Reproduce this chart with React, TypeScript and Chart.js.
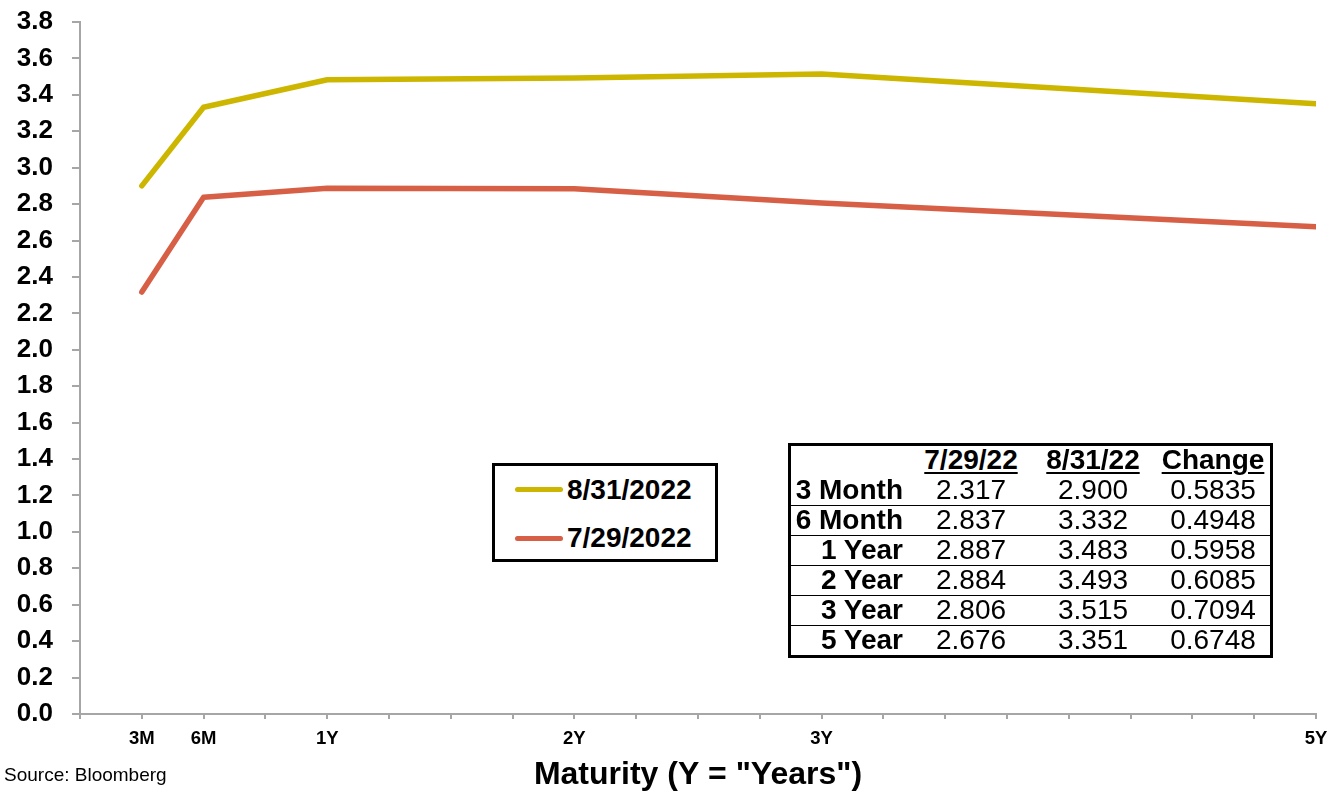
import React, { useEffect, useRef } from 'react';
import { Chart, registerables } from 'chart.js';

Chart.register(...registerables);

// ---- Data ----
const maturities = [0.25, 0.5, 1, 2, 3, 5];
const maturityNames = ['3 Month', '6 Month', '1 Year', '2 Year', '3 Year', '5 Year'];
const yields0729 = [2.317, 2.837, 2.887, 2.884, 2.806, 2.676];
const yields0831 = [2.9, 3.332, 3.483, 3.493, 3.515, 3.351];
const changes = [0.5835, 0.4948, 0.5958, 0.6085, 0.7094, 0.6748];
const xTickValues = [0.25, 0.5, 1, 2, 3, 5];
const xTickLabels = ['3M', '6M', '1Y', '2Y', '3Y', '5Y'];
const seriesNames = ['8/31/2022', '7/29/2022'];
const tableHeaders = ['7/29/22', '8/31/22', 'Change'];
const xTitle = 'Maturity (Y = "Years")';
const sourceText = 'Source: Bloomberg';

const YELLOW = '#CDB600';
const RED = '#D65F46';
const AXIS = '#A6A6A6';
const FONT = '"Liberation Sans", Arial, Helvetica, sans-serif';

export default function App() {
  const canvasRef = useRef<HTMLCanvasElement | null>(null);

  useEffect(() => {
    const canvas = canvasRef.current;
    if (!canvas) return;
    const chart = new Chart(canvas, {
      type: 'line',
      data: {
        datasets: [
          {
            label: seriesNames[0],
            data: maturities.map((x, i) => ({ x, y: yields0831[i] })),
            borderColor: YELLOW,
            backgroundColor: YELLOW,
            borderWidth: 5.5,
            pointRadius: 0,
            tension: 0,
            borderCapStyle: 'round',
            borderJoinStyle: 'round',
          },
          {
            label: seriesNames[1],
            data: maturities.map((x, i) => ({ x, y: yields0729[i] })),
            borderColor: RED,
            backgroundColor: RED,
            borderWidth: 5.5,
            pointRadius: 0,
            tension: 0,
            borderCapStyle: 'round',
            borderJoinStyle: 'round',
          },
        ],
      },
      options: {
        responsive: false,
        animation: false,
        devicePixelRatio: 1,
        layout: { padding: { left: 0, right: 22, top: 22, bottom: 0 } },
        plugins: {
          legend: { display: false },
          tooltip: { enabled: false },
        },
        scales: {
          x: {
            type: 'linear',
            min: 0,
            max: 5,
            afterFit: (scale: any) => {
              scale.height = 80;
            },
            ticks: {
              stepSize: 0.25,
              autoSkip: false,
              maxRotation: 0,
              minRotation: 0,
              padding: 9,
              color: '#000',
              font: { family: FONT, size: 18.5, weight: 'bold' },
              callback: (value: any) => {
                const idx = xTickValues.indexOf(Number(value));
                return idx >= 0 ? xTickLabels[idx] : '';
              },
            },
            grid: {
              display: true,
              drawOnChartArea: false,
              drawTicks: true,
              tickLength: 5,
              tickColor: AXIS,
              lineWidth: 2,
              color: AXIS,
            },
            border: { display: true, color: AXIS, width: 2 },
            title: {
              display: true,
              text: xTitle,
              color: '#000',
              padding: 0,
              font: { family: FONT, size: 32, weight: 'bold' },
            },
          },
          y: {
            type: 'linear',
            min: 0,
            max: 3.8,
            afterFit: (scale: any) => {
              scale.width = 80;
              scale.paddingTop = 0;
              scale.paddingBottom = 0;
            },
            ticks: {
              stepSize: 0.2,
              autoSkip: false,
              padding: 19,
              color: '#000',
              font: { family: FONT, size: 26, weight: 'bold' },
              callback: (value: any) => Number(value).toFixed(1),
            },
            grid: {
              display: true,
              drawOnChartArea: false,
              drawTicks: true,
              tickLength: 8,
              tickColor: AXIS,
              lineWidth: 2,
              color: AXIS,
            },
            border: { display: true, color: AXIS, width: 2 },
          },
        },
      },
    } as any);
    return () => chart.destroy();
  }, []);

  const abs = (style: React.CSSProperties): React.CSSProperties => ({
    position: 'absolute',
    whiteSpace: 'nowrap',
    ...style,
  });

  // table geometry
  const colCenters = [971, 1093, 1213];
  const colWidth = 130;
  const labelRight = 903;
  const headerTop = 445;
  const rowTop0 = 475;
  const rowH = 30;

  const seriesColors = [YELLOW, RED];
  const legendLineY = [489, 538];
  const legendTextTop = [475, 523];

  return (
    <div
      style={{
        position: 'fixed',
        left: 0,
        top: 0,
        width: 1338,
        height: 794,
        background: '#fff',
        fontFamily: FONT,
        color: '#000',
        overflow: 'hidden',
      }}
    >
      <canvas ref={canvasRef} width={1338} height={794} style={{ display: 'block', width: 1338, height: 794 }} />

      {/* Legend */}
      <div
        style={abs({
          left: 492,
          top: 463,
          width: 226,
          height: 99,
          boxSizing: 'border-box',
          border: '3px solid #000',
          background: '#fff',
        })}
      />
      {seriesNames.map((name, i) => (
        <React.Fragment key={name}>
          <div
            style={abs({
              left: 515,
              top: legendLineY[i] - 2.5,
              width: 48,
              height: 5,
              borderRadius: 3,
              background: seriesColors[i],
            })}
          />
          <div
            style={abs({
              left: 567,
              top: legendTextTop[i],
              fontSize: 28,
              lineHeight: '30px',
              fontWeight: 'bold',
            })}
          >
            {name}
          </div>
        </React.Fragment>
      ))}

      {/* Table */}
      <div
        style={abs({
          left: 788,
          top: 443,
          width: 485,
          height: 215,
          boxSizing: 'border-box',
          border: '3px solid #000',
          background: '#fff',
        })}
      />
      {maturityNames.slice(1).map((_, i) => (
        <div
          key={'sep' + i}
          style={abs({ left: 791, top: rowTop0 + rowH * (i + 1), width: 479, height: 1, background: '#000' })}
        />
      ))}
      {tableHeaders.map((h, j) => (
        <div
          key={'h' + j}
          style={abs({
            left: colCenters[j] - colWidth / 2,
            width: colWidth,
            top: headerTop,
            textAlign: 'center',
            fontSize: 28,
            lineHeight: '30px',
            fontWeight: 'bold',
          })}
        >
          <span style={{ textDecoration: 'underline', textDecorationThickness: '2px', textUnderlineOffset: '3px' }}>{h}</span>
        </div>
      ))}
      {maturityNames.map((name, i) => {
        const top = rowTop0 + rowH * i;
        const vals = [yields0729[i].toFixed(3), yields0831[i].toFixed(3), changes[i].toFixed(4)];
        return (
          <React.Fragment key={name}>
            <div
              style={abs({
                left: labelRight - 130,
                width: 130,
                top,
                textAlign: 'right',
                fontSize: 28,
                lineHeight: '30px',
                fontWeight: 'bold',
              })}
            >
              {name}
            </div>
            {vals.map((v, j) => (
              <div
                key={j}
                style={abs({
                  left: colCenters[j] - colWidth / 2,
                  width: colWidth,
                  top,
                  textAlign: 'center',
                  fontSize: 28,
                  lineHeight: '30px',
                })}
              >
                {v}
              </div>
            ))}
          </React.Fragment>
        );
      })}

      {/* Source */}
      <div style={abs({ left: 4, top: 765, fontSize: 19, lineHeight: '19px' })}>{sourceText}</div>
    </div>
  );
}
